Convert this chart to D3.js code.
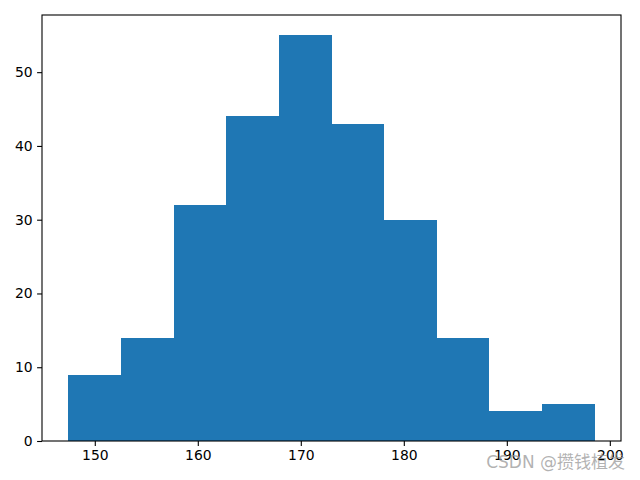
<!DOCTYPE html>
<html><head><meta charset="utf-8">
<script src="https://cdn.jsdelivr.net/npm/d3@7"></script>
<style>body{margin:0;background:#fff}svg{display:block}</style>
</head><body>
<script>
const binEdges = [147.43,152.54,157.65,162.76,167.87,172.98,178.09,183.20,188.31,193.42,198.53];
const counts = [9,14,32,44,55,43,30,14,4,5];
const xTicks = [150,160,170,180,190,200];
const yTicks = [0,10,20,30,40,50];
const watermark = "CSDN @攒钱植发";

const W=640,H=480, L=42, R=621, T=15, B=441;
const svg=d3.select("body").append("svg").attr("width",W).attr("height",H);
const span = binEdges[binEdges.length-1]-binEdges[0];
const x=d3.scaleLinear().domain([binEdges[0]-0.05*span, binEdges[binEdges.length-1]+0.05*span]).range([L,R]);
const ymax=d3.max(counts)*1.05;
const y=d3.scaleLinear().domain([0,ymax]).range([B,T]);

const bins = counts.map((c,i)=>({x0:binEdges[i],x1:binEdges[i+1],c}));
svg.append("g").selectAll("rect").data(bins).join("rect")
  .attr("x",d=>x(d.x0)).attr("width",d=>x(d.x1)-x(d.x0))
  .attr("y",d=>y(d.c)).attr("height",d=>y(0)-y(d.c))
  .attr("fill","#1f77b4").attr("shape-rendering","crispEdges");

const font="DejaVu Sans";
const xa=svg.append("g").attr("transform",`translate(0,${B})`)
  .call(d3.axisBottom(x).tickValues(xTicks).tickSize(4.9).tickPadding(4.5).tickFormat(d3.format("d")));
const ya=svg.append("g").attr("transform",`translate(${L},0)`)
  .call(d3.axisLeft(y).tickValues(yTicks).tickSize(4.9).tickPadding(4.5).tickFormat(d3.format("d")));
[xa,ya].forEach(a=>{a.select(".domain").remove();
  a.selectAll("text").attr("font-family",font).attr("font-size","13.9px").attr("fill","#000");
  a.selectAll("line").attr("stroke","#000").attr("stroke-width",1.1);});
svg.append("rect").attr("x",L).attr("y",T).attr("width",R-L).attr("height",B-T)
  .attr("fill","none").attr("stroke","#000").attr("stroke-width",1.1);

svg.append("text").attr("x",625).attr("y",468).attr("text-anchor","end")
  .attr("font-family","DejaVu Sans, Noto Sans CJK SC").attr("font-size","17px")
  .attr("fill","#999").attr("fill-opacity",0.75).text(watermark);
</script>
</body></html>
